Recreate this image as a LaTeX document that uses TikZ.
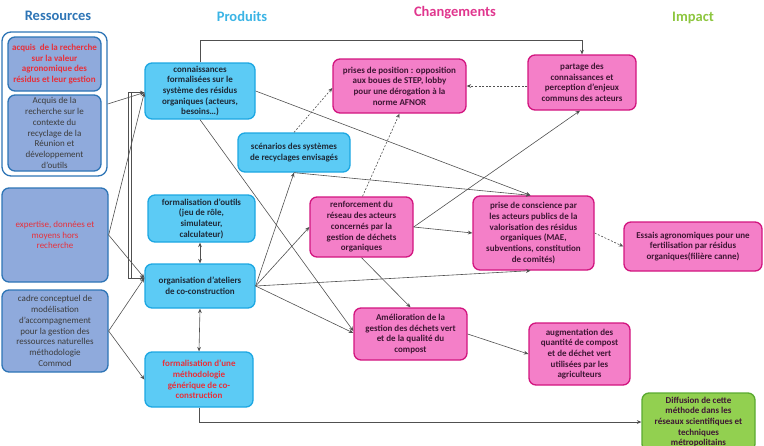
\documentclass[tikz,border=0pt]{standalone}
\usepackage{fontspec}
\setmainfont{Carlito}
\usetikzlibrary{arrows.meta}
\definecolor{resf}{HTML}{8FAADC}
\definecolor{resb}{HTML}{2E75B6}
\definecolor{prodf}{HTML}{5CCBF5}
\definecolor{prodb}{HTML}{1DA7E2}
\definecolor{chgf}{HTML}{F47FC8}
\definecolor{chgb}{HTML}{D2157F}
\definecolor{impf}{HTML}{92D050}
\definecolor{impb}{HTML}{5AAA30}
\definecolor{redt}{HTML}{E8303A}
\definecolor{grayt}{HTML}{3C3C3C}
\definecolor{darkt}{HTML}{1E2A38}
\definecolor{chgt}{HTML}{3E1634}
\definecolor{linec}{HTML}{505050}
\definecolor{t1}{HTML}{2E75B6}
\definecolor{t2}{HTML}{3BB4E5}
\definecolor{t3}{HTML}{E0368E}
\definecolor{t4}{HTML}{8DC63F}
\tikzset{
  base/.style={rounded corners=7pt, line width=1.3pt, align=center, inner sep=1pt,
    font=\fontsize{9}{10.7}\selectfont},
  res/.style={base, draw=resb, fill=resf, text=grayt},
  resred/.style={res, text=redt},
  prod/.style={base, draw=prodb, fill=prodf, text=darkt, font=\fontsize{9}{10.7}\selectfont\bfseries},
  chg/.style={base, draw=chgb, fill=chgf, text=chgt, font=\fontsize{9}{10.7}\selectfont\bfseries},
  imp/.style={base, draw=impb, fill=impf, text=chgt, font=\fontsize{9}{10.7}\selectfont\bfseries},
  ttl/.style={font=\fontsize{14.5}{16}\selectfont\bfseries},
  arr/.style={draw=linec, line width=0.6pt, -{Stealth[length=4.5pt,width=3.8pt]}},
  darr/.style={draw=linec, line width=0.6pt, {Stealth[length=4.5pt,width=3.8pt]}-{Stealth[length=4.5pt,width=3.8pt]}},
  dsh/.style={arr, dash pattern=on 2pt off 1.6pt},
}
\begin{document}
\begin{tikzpicture}[x=1pt,y=-1pt]
\useasboundingbox (0,0) rectangle (764,445);
\clip (0,0) rectangle (764,445);
% titles
\node[ttl, text=t1] (T1) at (58,16) {Ressources};
\node[ttl, text=t2] (T2) at (242,16) {Produits};
\node[ttl, text=t3] (T3) at (455,13) {Changements};
\node[ttl, text=t4] (T4) at (693,18) {Impact};
% resources
\node[draw=resb, fill=white, line width=1.3pt, rounded corners=9pt, minimum width=105pt, minimum height=144pt] (G) at (54.5,104) {};
\node[resred, font=\fontsize{9}{10.7}\selectfont\bfseries, minimum width=93pt, minimum height=54pt] (R1) at (54.5,64) {acquis\ \ de la recherche\\sur la valeur\\agronomique des\\résidus et leur gestion};
\node[res, minimum width=93pt, minimum height=76pt] (R2) at (54.5,133) {Acquis de la\\recherche sur le\\contexte du\\recyclage de la\\Réunion et\\développement\\d'outils};
\node[resred, minimum width=106pt, minimum height=94pt] (R3) at (55,235) {expertise, données et\\moyens hors\\recherche};
\node[res, minimum width=106pt, minimum height=82pt] (R4) at (55,331) {cadre conceptuel de\\modélisation\\d’accompagnement\\pour la gestion des\\ressources naturelles\\méthodologie\\Commod};
% produits
\node[prod, minimum width=110pt, minimum height=56pt] (P1) at (200,91) {connaissances\\formalisées sur le\\système des résidus\\organiques (acteurs,\\besoins…)};
\node[prod, minimum width=112pt, minimum height=39pt] (P2) at (294,152.5) {scénarios des systèmes\\de recyclages envisagés};
\node[prod, minimum width=107pt, minimum height=47pt] (P3) at (201.5,218.5) {formalisation d'outils\\(jeu de rôle,\\simulateur,\\calculateur)};
\node[prod, minimum width=110pt, minimum height=44pt] (P4) at (200,286) {organisation d'ateliers\\de co-construction};
\node[prod, text=redt, minimum width=108pt, minimum height=55pt] (P5) at (199,379.5) {formalisation d'une\\méthodologie\\générique de co-\\construction};
% changements
\node[chg, minimum width=133pt, minimum height=54pt] (C1) at (399.5,86) {prises de position : opposition\\aux boues de STEP, lobby\\pour une dérogation à la\\norme AFNOR};
\node[chg, minimum width=108pt, minimum height=55pt] (C2) at (582,82.5) {partage des\\connaissances et\\perception d'enjeux\\communs des acteurs};
\node[chg, minimum width=103pt, minimum height=60pt] (C3) at (361.5,227) {renforcement du\\réseau des acteurs\\concernés par la\\gestion de déchets\\organiques};
\node[chg, minimum width=121pt, minimum height=74pt] (C4) at (533.5,233) {prise de conscience par\\les acteurs publics de la\\valorisation des résidus\\organiques (MAE,\\subventions, constitution\\de comités)};
\node[chg, minimum width=138pt, minimum height=49pt] (C5) at (693,246.5) {Essais agronomiques pour une\\fertilisation par résidus\\organiques(filière canne)};
\node[chg, minimum width=113pt, minimum height=52pt] (C6) at (410.5,334) {Amélioration de la\\gestion des déchets vert\\et de la qualité du\\compost};
\node[chg, minimum width=101pt, minimum height=62pt] (C7) at (579.5,354) {augmentation des\\quantité de compost\\et de déchet vert\\utilisées par les\\agriculteurs};
% impact
\node[imp, minimum width=113pt, minimum height=58pt] (IM) at (698.5,422) {Diffusion de cette\\méthode dans les\\réseaux scientifiques et\\techniques\\métropolitains};
% connectors from resources
\coordinate (P4in) at ([yshift=8pt]P4.west);
\coordinate (P1in) at ([yshift=-1.5pt]P1.west);
\draw[arr] (G.east) -- (P1in);
\draw[arr] (R3.east) -- (P1in);
\draw[arr] (R3.east) -- (P4in);
\draw[arr] (R4.east) -- (P4in);
\draw[arr] (R4.east) -- (P5.west);
\draw[darr] (P1in) -- ++(-16,0) |- (P4in);
\draw[draw=linec, line width=0.6pt] (P1in) -- ++(-13,0) |- (P4in);
% produits connectors
\draw[arr] (P1.north) -- ++(0,-22) -| (C2.north);
\draw[arr] (P1.east) -- ([xshift=-3pt]C4.north);
\draw[arr] (P1.south) -- ([yshift=3pt]C6.west);
\draw[arr] (P4.east) -- (P2.south);
\draw[arr] (P2.south) -- ([xshift=-3pt]C4.north);
\draw[arr] (P4.east) -- (C3.west);
\draw[arr] (P4.east) -- ([xshift=-3pt]C4.south);
\draw[arr] (P4.east) -- ([yshift=1pt]C6.west);
\draw[darr] (P3.south -| P4.north) -- (P4.north);
\draw[darr] (P4.south) -- (P5.north);
\draw[arr] (P5.south) |- (IM.west);
\draw[dsh] (P2.north) -- ([yshift=-2pt]C1.west);
% changements connectors
\draw[dsh] ([xshift=1pt]C3.north) -- (C1.south);
\draw[dsh] (C2.west |- C1.east) -- (C1.east);
\draw[arr] (C3.east) -- (C4.west);
\draw[arr] (C3.east) -- ([xshift=-2pt]C2.south);
\draw[arr] (C3.south) -- (C6.north);
\draw[dsh] (C4.east) -- (C5.west);
\draw[arr] (C6.east) -- (C7.west);
\end{tikzpicture}
\end{document}
